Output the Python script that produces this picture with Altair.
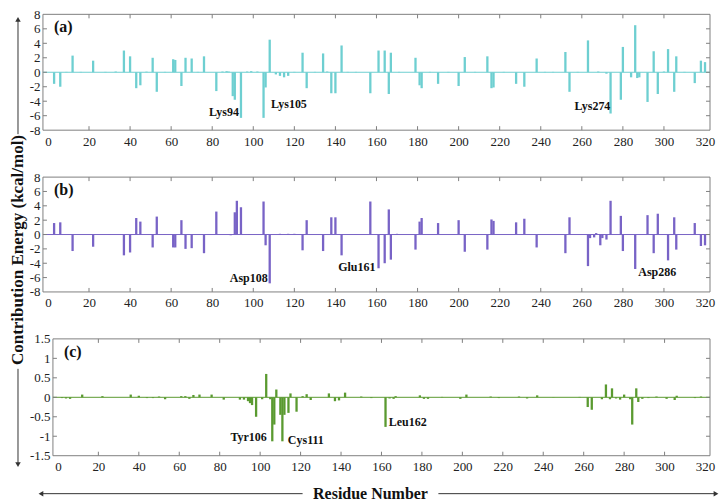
import altair as alt
import pandas as pd

# ---------------- data ----------------
a_res = [3, 6, 9, 12, 16, 22, 28, 33, 37, 40, 43, 45, 48, 51, 53, 57, 61, 62, 65, 67, 70, 73, 76, 82, 85, 87, 88,
         90, 91, 94, 97, 99, 102, 105, 106, 108, 111, 113, 115, 117, 120, 124, 126, 130, 134, 136, 138, 140, 143,
         146, 150, 157, 161, 164, 166, 167, 171, 179, 181, 182, 186, 190, 195, 200, 203, 208, 214, 216, 217, 222,
         228, 232, 238, 242, 246, 252, 254, 258, 263, 268, 272, 274, 279, 280, 284, 286, 287, 288, 292, 295, 297,
         300, 302, 305, 306, 310, 315, 318, 320]
a_val = [-1.6, -2.0, 0.05, 2.3, 0.05, 1.6, 0.05, 0.1, 3.0, 2.2, -2.2, -1.8, 0.08, 2.0, -2.7, 0.05, 1.8, 1.7, -1.9,
         2.0, 1.9, 0.05, 2.2, -2.6, 0.1, 0.15, 0.1, -3.3, -3.8, -6.3, 0.1, 0.15, 0.1, -6.3, -2.1, 4.5, -0.3, -0.5,
         -0.7, -0.5, 0.05, 2.7, -2.2, 0.05, 2.6, 0.1, -2.9, -2.9, 3.7, 0.05, 0.05, -2.9, 3.0, 3.0, -3.0, 2.7, 0.05,
         2.0, -1.8, -2.2, 0.05, -1.6, 0.05, -1.9, 2.1, 0.05, 2.2, -2.2, -2.1, 0.05, -1.6, -2.0, 1.9, 0.05, 0.05,
         2.8, -2.7, 0.05, 4.4, 0.1, -0.2, -5.7, -3.8, 3.5, -0.7, 6.5, -0.8, -0.7, -4.1, 2.9, -3.0, 0.1, 3.2, -2.7,
         2.2, 0.05, -1.5, 1.6, 1.4]

b_res = [3, 6, 12, 22, 30, 37, 40, 43, 45, 51, 53, 57, 61, 62, 65, 67, 70, 76, 82, 89, 91, 92, 94, 98, 105, 106,
         108, 113, 117, 120, 124, 126, 134, 138, 140, 143, 150, 157, 161, 164, 166, 167, 170, 179, 181, 182, 190,
         200, 203, 214, 216, 217, 228, 232, 238, 252, 254, 263, 264, 266, 267, 269, 270, 272, 274, 279, 280, 286,
         292, 295, 297, 302, 305, 306, 315, 318, 320]
b_val = [1.6, 1.7, -2.3, -1.7, 0.05, -2.9, -2.5, 2.3, 1.8, -1.8, 2.5, 0.05, -1.8, -1.8, 2.0, -2.0, -1.9, -2.6, 3.2,
         -0.1, 3.1, 4.7, 3.8, 0.05, 4.6, -1.5, -6.8, 0.1, 0.1, 0.1, -2.2, 2.0, -2.3, 2.4, 2.4, -2.9, 0.05, 4.6,
         -4.7, -4.0, 3.5, -3.5, 0.1, -2.1, 1.8, 2.3, 1.6, 2.0, -2.4, -2.1, 2.1, 1.9, 1.7, 2.2, -1.8, -2.6, 2.4,
         -4.4, -0.5, -0.4, 0.2, -1.5, -0.5, -0.7, 4.7, 2.6, -2.3, -4.8, 2.7, -2.6, 2.9, -3.6, 2.4, -2.1, 1.6,
         -1.6, -1.5]

c_res = [2, 4, 6, 12, 22, 36, 40, 44, 47, 50, 53, 61, 63, 65, 67, 70, 76, 82, 90, 92, 94, 95, 96, 98, 101, 103,
         105, 106, 107, 108, 110, 111, 112, 114, 115, 118, 121, 123, 125, 134, 137, 139, 142, 150, 155, 162, 164,
         166, 167, 179, 181, 183, 190, 199, 202, 214, 218, 228, 232, 237, 245, 258, 262, 264, 269, 271, 273, 274,
         276, 278, 280, 283, 284, 286, 287, 289, 292, 296, 301, 305, 306, 315, 318]
c_val = [-0.02, -0.03, -0.04, 0.07, 0.03, 0.07, 0.04, -0.02, -0.02, 0.02, -0.05, 0.03, 0.03, -0.04, 0.06, 0.07,
         0.07, -0.06, -0.06, -0.06, -0.1, -0.15, -0.2, -0.5, -0.05, 0.6, -0.05, -1.13, -0.7, 0.2, -0.45, -1.13,
         -0.45, -0.4, 0.1, -0.37, 0.03, 0.08, -0.07, 0.1, -0.1, -0.08, 0.12, 0.02, -0.02, -0.76, -0.03, -0.04,
         0.03, 0.05, -0.04, -0.04, 0.01, -0.04, 0.07, 0.02, -0.02, 0.02, -0.03, 0.05, 0.01, 0.01, -0.25, -0.32,
         -0.05, 0.33, -0.05, 0.23, -0.03, -0.06, 0.07, -0.05, -0.7, 0.23, -0.12, -0.04, -0.02, 0.02, -0.04, -0.07,
         0.04, -0.02, 0.02]

# annotations: (residue position, energy position, label)
a_ann_right = {"res": [93, 273.9], "val": [-5.5, -4.7], "label": ["Lys94", "Lys274"]}
a_ann_left = {"res": [108.6], "val": [-4.4], "label": ["Lys105"]}
b_ann_right = {"res": [107, 159.5], "val": [-6.0, -4.5], "label": ["Asp108", "Glu161"]}
b_ann_left = {"res": [287.5], "val": [-5.2], "label": ["Asp286"]}
c_ann_right = {"res": [103.3], "val": [-1.01], "label": ["Tyr106"]}
c_ann_left = {"res": [113.7, 163.6], "val": [-1.1, -0.63], "label": ["Cys111", "Leu162"]}

x_ticks = list(range(0, 321, 20))
ab_yticks = list(range(-8, 9, 2))
c_yticks = [-1.5, -1, -0.5, 0, 0.5, 1, 1.5]

COL_A = "#6ECFD1"
COL_B = "#7863C6"
COL_C = "#5A9A30"

# ---------------- style ----------------
FONT = "Liberation Serif"
W = 668
FRAME = "#808080"
TXT = "#222222"


def x_enc(x0):
    if x0:
        sc = alt.Scale(domain=[0, 320], range=[x0, W], nice=False)
    else:
        sc = alt.Scale(domain=[0, 320], nice=False)
    return alt.X("res:Q", scale=sc,
                 axis=alt.Axis(values=x_ticks, title=None, labelFlush=False, ticks=False, domain=False,
                               grid=False, labelFont=FONT, labelFontSize=13, labelColor=TXT,
                               labelPadding=5, labelExpr="toString(datum.value)"))


def y_enc(dom, vals, x0):
    return alt.Y("val:Q", scale=alt.Scale(domain=dom, nice=False),
                 axis=alt.Axis(values=vals, title=None, ticks=False, domain=False, grid=False,
                               offset=-x0, labelFont=FONT, labelFontSize=13, labelColor=TXT,
                               labelPadding=3, labelExpr="toString(datum.value)"))


def panel(res, val, color, H, ydom, yvals, letter, ann_r, ann_l, x0=0, extra=None):
    X = x_enc(x0)
    Y = y_enc(ydom, yvals, x0)
    one = pd.DataFrame({"k": [0]})
    bars_df = pd.DataFrame({"res": res, "val": val, "zero": [0] * len(res)})

    frame = alt.Chart(one).mark_rect(fillOpacity=0, stroke=FRAME, strokeWidth=1).encode(
        x=alt.value(x0), x2=alt.value(W), y=alt.value(0), y2=alt.value(H))
    zero = alt.Chart(pd.DataFrame({"val": [0]})).mark_rule(color=color, strokeWidth=1).encode(
        y=Y, x=alt.value(x0), x2=alt.value(W))
    bars = alt.Chart(bars_df).mark_bar(color=color, size=2.3).encode(x=X, y=Y, y2="zero")

    xt = pd.DataFrame({"res": x_ticks[1:-1]})
    yt = pd.DataFrame({"val": yvals[1:-1]})
    tt = alt.Chart(xt).mark_rule(color=FRAME).encode(x=X, y=alt.value(0), y2=alt.value(4))
    bt = alt.Chart(xt).mark_rule(color=FRAME).encode(x=X, y=alt.value(H - 4), y2=alt.value(H))
    lt = alt.Chart(yt).mark_rule(color=FRAME).encode(y=Y, x=alt.value(x0), x2=alt.value(x0 + 4))
    rt = alt.Chart(yt).mark_rule(color=FRAME).encode(y=Y, x=alt.value(W - 4), x2=alt.value(W))

    txt_r = alt.Chart(pd.DataFrame(ann_r)).mark_text(
        align="right", baseline="middle", font=FONT, fontSize=12, fontWeight="bold", color="#111").encode(
        x=X, y=Y, text="label:N")
    txt_l = alt.Chart(pd.DataFrame(ann_l)).mark_text(
        align="left", baseline="middle", font=FONT, fontSize=12, fontWeight="bold", color="#111").encode(
        x=X, y=Y, text="label:N")
    let = alt.Chart(one).mark_text(
        align="left", baseline="middle", font=FONT, fontSize=16, fontWeight="bold", color="#111").encode(
        x=alt.value(x0 + 11), y=alt.value(13), text=alt.value(letter))

    layers = [frame, zero, bars, tt, bt, lt, rt, txt_r, txt_l, let]
    if extra:
        layers += extra
    return alt.layer(*layers).properties(width=W, height=H)


one = pd.DataFrame({"k": [0]})
AX = -25
ARROW = "#333333"

# y-title arrows and text
up_line = alt.Chart(one).mark_rule(color=ARROW, strokeWidth=1).encode(
    x=alt.value(AX), y=alt.value(5), y2=alt.value(120))
up_head = alt.Chart(one).mark_point(shape="triangle-up", filled=True, size=30, color=ARROW, opacity=1).encode(
    x=alt.value(AX), y=alt.value(5))
ytitle = alt.Chart(one).mark_text(
    angle=270, align="center", baseline="middle", font=FONT, fontSize=17, fontWeight="bold", color="#111").encode(
    x=alt.value(AX), y=alt.value(73), text=alt.value("Contribution Energy (kcal/mol)"))
dn_line = alt.Chart(one).mark_rule(color=ARROW, strokeWidth=1).encode(
    x=alt.value(AX), y=alt.value(30), y2=alt.value(126))
dn_head = alt.Chart(one).mark_point(shape="triangle-down", filled=True, size=30, color=ARROW, opacity=1).encode(
    x=alt.value(AX), y=alt.value(126))

# x-title arrows and text (relative to panel c)
XT_Y = 155
xtitle = alt.Chart(one).mark_text(
    align="center", baseline="middle", font=FONT, fontSize=16, fontWeight="bold", color="#111").encode(
    x=alt.value(328), y=alt.value(XT_Y), text=alt.value("Residue Number"))
xl_line = alt.Chart(one).mark_rule(color=ARROW, strokeWidth=1).encode(
    x=alt.value(-2), x2=alt.value(260), y=alt.value(XT_Y))
xl_head = alt.Chart(one).mark_point(shape="triangle-left", filled=True, size=30, color=ARROW, opacity=1).encode(
    x=alt.value(-2), y=alt.value(XT_Y))
xr_line = alt.Chart(one).mark_rule(color=ARROW, strokeWidth=1).encode(
    x=alt.value(396), x2=alt.value(674), y=alt.value(XT_Y))
xr_head = alt.Chart(one).mark_point(shape="triangle-right", filled=True, size=30, color=ARROW, opacity=1).encode(
    x=alt.value(674), y=alt.value(XT_Y))

pa = panel(a_res, a_val, COL_A, 116, [-8, 8], ab_yticks, "(a)", a_ann_right, a_ann_left,
           extra=[up_line, up_head])
pb = panel(b_res, b_val, COL_B, 115, [-8, 8], ab_yticks, "(b)", b_ann_right, b_ann_left,
           extra=[ytitle])
pc = panel(c_res, c_val, COL_C, 117, [-1.5, 1.5], c_yticks, "(c)", c_ann_right, c_ann_left, x0=10,
           extra=[dn_line, dn_head, xtitle, xl_line, xl_head, xr_line, xr_head])

chart = alt.vconcat(pa, pb, pc, spacing=47, bounds="flush").properties(
    padding={"left": 0, "top": 0, "right": 0, "bottom": 0},
    background="white",
).configure_view(strokeWidth=0)

chart.save("out.html", embed_options={"renderer": "svg", "actions": False})
